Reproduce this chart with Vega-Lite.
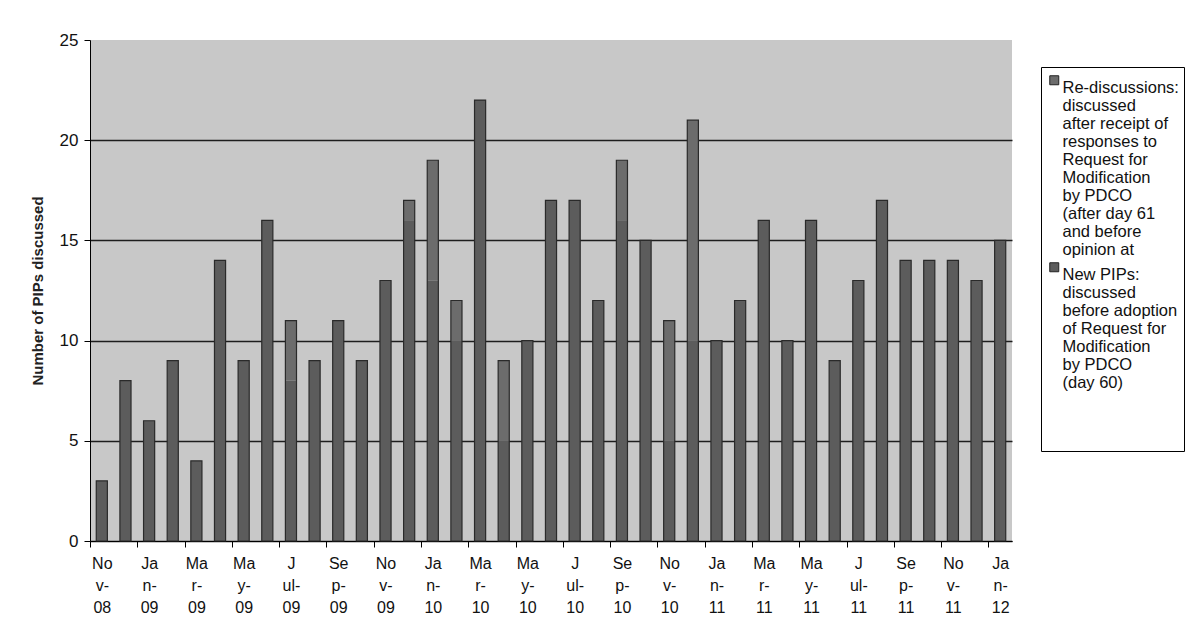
{
  "$schema": "https://vega.github.io/schema/vega-lite/v6.json",
  "width": 922,
  "height": 501,
  "autosize": {"type": "none"},
  "padding": {"left": 90, "top": 40, "right": 182, "bottom": 93},
  "background": "white",
  "config": {
    "font": "Liberation Sans",
    "view": {"fill": "#c8c8c8", "stroke": null},
    "style": {"guide-label": {"lineHeight": 18}}
  },
  "data": {
    "values": [
      {"month": "Nov-08", "New PIPs": 3, "Re-discussions": 0},
      {"month": "Dec-08", "New PIPs": 8, "Re-discussions": 0},
      {"month": "Jan-09", "New PIPs": 6, "Re-discussions": 0},
      {"month": "Feb-09", "New PIPs": 9, "Re-discussions": 0},
      {"month": "Mar-09", "New PIPs": 4, "Re-discussions": 0},
      {"month": "Apr-09", "New PIPs": 14, "Re-discussions": 0},
      {"month": "May-09", "New PIPs": 9, "Re-discussions": 0},
      {"month": "Jun-09", "New PIPs": 16, "Re-discussions": 0},
      {"month": "Jul-09", "New PIPs": 8, "Re-discussions": 3},
      {"month": "Aug-09", "New PIPs": 9, "Re-discussions": 0},
      {"month": "Sep-09", "New PIPs": 11, "Re-discussions": 0},
      {"month": "Oct-09", "New PIPs": 9, "Re-discussions": 0},
      {"month": "Nov-09", "New PIPs": 13, "Re-discussions": 0},
      {"month": "Dec-09", "New PIPs": 16, "Re-discussions": 1},
      {"month": "Jan-10", "New PIPs": 13, "Re-discussions": 6},
      {"month": "Feb-10", "New PIPs": 10, "Re-discussions": 2},
      {"month": "Mar-10", "New PIPs": 22, "Re-discussions": 0},
      {"month": "Apr-10", "New PIPs": 5, "Re-discussions": 4},
      {"month": "May-10", "New PIPs": 10, "Re-discussions": 0},
      {"month": "Jun-10", "New PIPs": 17, "Re-discussions": 0},
      {"month": "Jul-10", "New PIPs": 17, "Re-discussions": 0},
      {"month": "Aug-10", "New PIPs": 12, "Re-discussions": 0},
      {"month": "Sep-10", "New PIPs": 16, "Re-discussions": 3},
      {"month": "Oct-10", "New PIPs": 15, "Re-discussions": 0},
      {"month": "Nov-10", "New PIPs": 5, "Re-discussions": 6},
      {"month": "Dec-10", "New PIPs": 10, "Re-discussions": 11},
      {"month": "Jan-11", "New PIPs": 10, "Re-discussions": 0},
      {"month": "Feb-11", "New PIPs": 12, "Re-discussions": 0},
      {"month": "Mar-11", "New PIPs": 16, "Re-discussions": 0},
      {"month": "Apr-11", "New PIPs": 10, "Re-discussions": 0},
      {"month": "May-11", "New PIPs": 16, "Re-discussions": 0},
      {"month": "Jun-11", "New PIPs": 9, "Re-discussions": 0},
      {"month": "Jul-11", "New PIPs": 13, "Re-discussions": 0},
      {"month": "Aug-11", "New PIPs": 17, "Re-discussions": 0},
      {"month": "Sep-11", "New PIPs": 14, "Re-discussions": 0},
      {"month": "Oct-11", "New PIPs": 14, "Re-discussions": 0},
      {"month": "Nov-11", "New PIPs": 14, "Re-discussions": 0},
      {"month": "Dec-11", "New PIPs": 13, "Re-discussions": 0},
      {"month": "Jan-12", "New PIPs": 15, "Re-discussions": 0}
    ]
  },
  "transform": [
    {"fold": ["Re-discussions", "New PIPs"], "as": ["series", "count"]}
  ],
  "encoding": {
    "x": {
      "field": "month",
      "type": "ordinal",
      "sort": null,
      "scale": {"paddingInner": 0, "paddingOuter": 0},
      "axis": {
        "title": null,
        "labelAngle": 0,
        "labelFontSize": 16,
        "labelColor": "#111",
        "labelLineHeight": 22,
        "labelBaseline": "top",
        "labelPadding": 8,
        "tickSize": 6,
        "tickColor": "#000",
        "tickBand": "extent",
        "tickOpacity": {"condition": {"test": "!isString(datum.value) || indexof(['Dec','Feb','Apr','Jun','Aug','Oct'], slice(datum.value + '',0,3)) >= 0", "value": 1}, "value": 0},
        "domainColor": "#000",
        "domainWidth": 1.2,
        "labelExpr": "indexof(['Nov','Jan','Mar','May','Jul','Sep'], slice(datum.value + '',0,3)) < 0 ? '' : (slice(datum.value + '',0,3) == 'Jul' ? ['J', 'ul-', slice(datum.value + '',4)] : [slice(datum.value + '',0,2), slice(datum.value + '',2,4), slice(datum.value + '',4)])",
        "grid": false
      }
    }
  },
  "layer": [
    {
      "mark": {"type": "bar", "width": {"band": 0.47}},
      "encoding": {
        "y": {
          "field": "count",
          "type": "quantitative",
          "stack": "zero",
          "scale": {"domain": [0, 25], "nice": false},
          "axis": {
            "title": "Number of PIPs discussed",
            "titleFontSize": 15,
            "titleFontWeight": "bold",
            "titleColor": "#222",
            "titlePadding": 14,
            "labelFontSize": 17,
            "labelColor": "#111",
            "labelPadding": 6,
            "values": [0, 5, 10, 15, 20, 25],
            "grid": true,
            "gridColor": "#1e1e1e",
            "gridWidth": 1.5,
            "gridOpacity": {"condition": {"test": "datum.value >= 25", "value": 0}, "value": 1},
            "domainColor": "#000",
            "tickColor": "#000",
            "tickSize": 6
          }
        },
        "color": {
          "field": "series",
          "type": "nominal",
          "scale": {"domain": ["Re-discussions", "New PIPs"], "range": ["#6c6c6c", "#5c5c5c"]},
          "legend": {
            "orient": "none",
            "legendX": 951,
            "legendY": 27,
            "title": null,
            "strokeColor": "#000",
            "fillColor": "white",
            "padding": 5,
            "symbolType": "square",
            "symbolSize": 81,
            "symbolStrokeColor": "#222",
            "symbolStrokeWidth": 1,
            "labelFontSize": 16.5,
            "labelColor": "#111",
            "labelBaseline": "top",
            "labelOffset": 0,
            "labelLimit": 0,
            "rowPadding": 0,
            "labelExpr": "datum.value == 'Re-discussions' ? ['Re-discussions:', 'discussed', 'after receipt of', 'responses to', 'Request for', 'Modification', 'by PDCO', '(after day 61', 'and before', 'opinion at'] : ['New PIPs:', 'discussed', 'before adoption', 'of Request for', 'Modification', 'by PDCO', '(day 60)', '', '', '']"
          }
        },
        "order": {"field": "series", "sort": "ascending"}
      }
    },
    {
      "mark": {"type": "bar", "width": {"band": 0.47}, "fillOpacity": 0, "stroke": "#2a2a2a", "strokeWidth": 1.2},
      "encoding": {
        "y": {"aggregate": "sum", "field": "count", "type": "quantitative", "scale": {"domain": [0, 25], "nice": false}}
      }
    }
  ]
}
